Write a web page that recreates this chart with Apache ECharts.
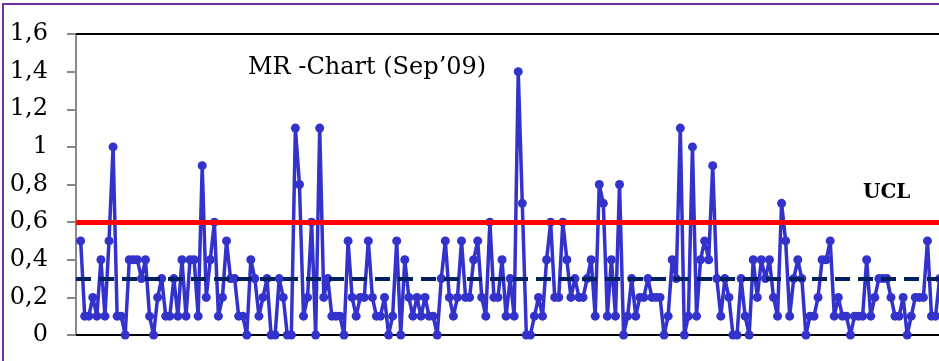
<!DOCTYPE html>
<html>
<head>
<meta charset="utf-8">
<script src="https://cdn.jsdelivr.net/npm/echarts@6/dist/echarts.min.js"></script>
<style>
html,body{margin:0;padding:0;background:#fff;}
#c{width:939px;height:361px;}
</style>
</head>
<body>
<div id="c"></div>
<script>
// Moving range values (one per observation, Sep'09)
const mrValues = [
0.5,0.1,0.1,0.2,0.1,0.4,0.1,0.5,1.0,0.1,
0.1,0,0.4,0.4,0.4,0.3,0.4,0.1,0,0.2,
0.3,0.1,0.1,0.3,0.1,0.4,0.1,0.4,0.4,0.1,
0.9,0.2,0.4,0.6,0.1,0.2,0.5,0.3,0.3,0.1,
0.1,0,0.4,0.3,0.1,0.2,0.3,0,0,0.3,
0.2,0,0,1.1,0.8,0.1,0.2,0.6,0,1.1,
0.2,0.3,0.1,0.1,0.1,0,0.5,0.2,0.1,0.2,
0.2,0.5,0.2,0.1,0.1,0.2,0,0.1,0.5,0,
0.4,0.2,0.1,0.2,0.1,0.2,0.1,0.1,0,0.3,
0.5,0.2,0.1,0.2,0.5,0.2,0.2,0.4,0.5,0.2,
0.1,0.6,0.2,0.2,0.4,0.1,0.3,0.1,1.4,0.7,
0,0,0.1,0.2,0.1,0.4,0.6,0.2,0.2,0.6,
0.4,0.2,0.3,0.2,0.2,0.3,0.4,0.1,0.8,0.7,
0.1,0.4,0.1,0.8,0,0.1,0.3,0.1,0.2,0.2,
0.3,0.2,0.2,0.2,0,0.1,0.4,0.3,1.1,0,
0.1,1.0,0.1,0.4,0.5,0.4,0.9,0.3,0.1,0.3,
0.2,0,0,0.3,0.1,0,0.4,0.2,0.4,0.3,
0.4,0.2,0.1,0.7,0.5,0.1,0.3,0.4,0.3,0,
0.1,0.1,0.2,0.4,0.4,0.5,0.1,0.2,0.1,0.1,
0,0.1,0.1,0.1,0.4,0.1,0.2,0.3,0.3,0.3,
0.2,0.1,0.1,0.2,0,0.1,0.2,0.2,0.2,0.5,
0.1,0.1,0.3
];
const uclValue = 0.6;
const centerValue = 0.3;
const yTickLabels = ['0','0,2','0,4','0,6','0,8','1','1,2','1,4','1,6'];
const titleText = 'MR -Chart (Sep\u201909)';
const uclText = 'UCL';

const chart = echarts.init(document.getElementById('c'), null, {renderer:'canvas'});
const seriesData = mrValues.map((v, i) => [i, v]);
const xMin = -1.15, xMax = 211.85;

chart.setOption({
  animation: false,
  backgroundColor: '#ffffff',
  grid: {left: 76, top: 34, bottom: 26, right: 0, show: false},
  xAxis: [
    {
      type: 'value', min: xMin, max: xMax, position: 'bottom',
      axisLine: {show: true, onZero: false, lineStyle: {color: '#000', width: 2}},
      axisTick: {show: false}, axisLabel: {show: false}, splitLine: {show: false}
    },
    {
      type: 'value', min: xMin, max: xMax, position: 'top',
      axisLine: {show: true, onZero: false, lineStyle: {color: '#000', width: 2}},
      axisTick: {show: false}, axisLabel: {show: false}, splitLine: {show: false}
    }
  ],
  yAxis: {
    type: 'value', min: 0, max: 1.6, interval: 0.2,
    axisLine: {show: true, onZero: false, lineStyle: {color: '#888', width: 2}},
    axisTick: {show: true, inside: false, length: 9, lineStyle: {color: '#888', width: 2}},
    axisLabel: {
      margin: 28, color: '#000', fontFamily: 'DejaVu Serif', fontSize: 24,
      formatter: v => yTickLabels[Math.round(v / 0.2)]
    },
    splitLine: {show: false}
  },
  series: [
    {
      type: 'line', data: seriesData, z: 2, xAxisIndex: 0,
      symbol: 'circle', symbolSize: 9, showAllSymbol: true, clip: false,
      itemStyle: {color: '#3333CC'},
      lineStyle: {color: '#3333CC', width: 3.5}
    },
    {
      type: 'line', data: [], z: 3, xAxisIndex: 0,
      markLine: {
        silent: true, symbol: 'none', label: {show: false}, animation: false,
        data: [
          {yAxis: uclValue, lineStyle: {color: '#FF0000', width: 5, type: 'solid'}},
          {yAxis: centerValue, lineStyle: {color: '#002060', width: 4, type: [15, 8]}}
        ]
      }
    }
  ],
  graphic: [
    {type: 'text', left: 248, top: 56, style: {text: titleText, font: '24px "DejaVu Serif"', fill: '#000'}, z: 10},
    {type: 'text', left: 863, top: 183, style: {text: uclText, font: 'bold 20px "DejaVu Serif"', fill: '#000'}, z: 10},
    {type: 'rect', shape: {x: 3, y: 4, width: 1000, height: 1000}, style: {fill: 'none', stroke: '#7030A0', lineWidth: 2}, z: 20, silent: true}
  ]
});
</script>
</body>
</html>
